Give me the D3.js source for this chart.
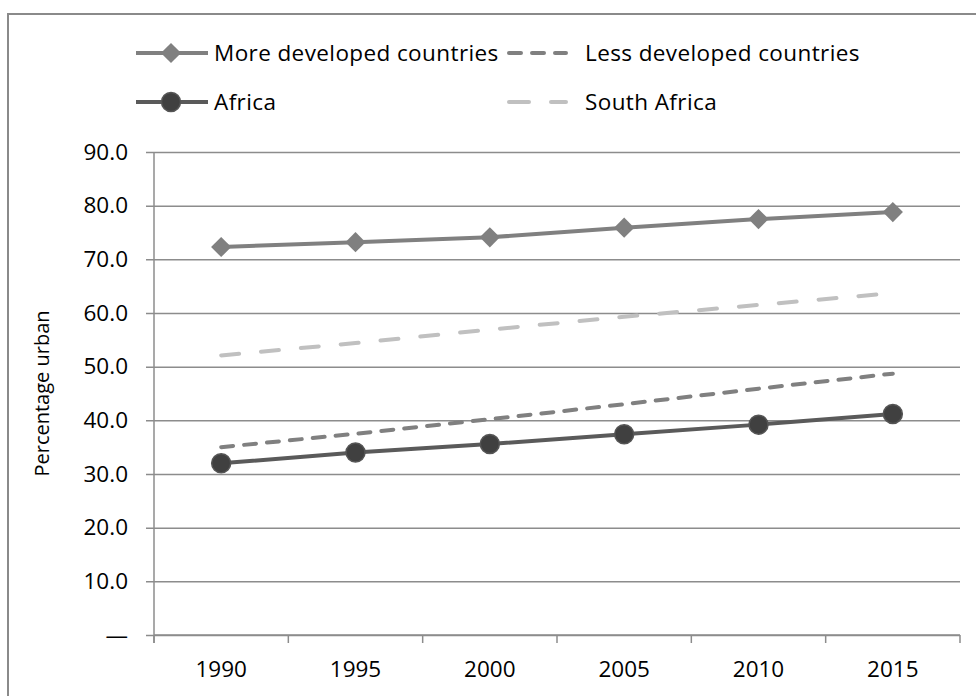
<!DOCTYPE html>
<html>
<head>
<meta charset="utf-8">
<script src="https://cdn.jsdelivr.net/npm/d3@7"></script>
<style>
  html, body { margin: 0; padding: 0; background: #fff; }
  svg { display: block; font-family: "Open Sans", Lato, sans-serif; }
</style>
</head>
<body>
<svg id="chart" width="976" height="696"></svg>
<script>
// Urban population share, 1990–2015
const years = ["1990", "1995", "2000", "2005", "2010", "2015"];
const moreDeveloped = [72.3, 73.2, 74.1, 75.9, 77.5, 78.8];
const lessDeveloped = [35.0, 37.5, 40.2, 43.0, 45.9, 48.7];
const africa = [32.0, 34.0, 35.6, 37.4, 39.2, 41.2];
const southAfrica = [52.1, 54.4, 56.9, 59.3, 61.5, 63.7];
const yTicks = [0, 10, 20, 30, 40, 50, 60, 70, 80, 90];

const series = [
  { name: "More developed countries", values: moreDeveloped, color: "#808080", dash: "", legendDash: "", marker: "diamond" },
  { name: "Less developed countries", values: lessDeveloped, color: "#808080", dash: "12 11", legendDash: "12 11", marker: null },
  { name: "Africa", values: africa, color: "#5a5a5a", dash: "", legendDash: "", marker: "circle" },
  { name: "South Africa", values: southAfrica, color: "#c0c0c0", dash: "18 22", legendDash: "20 22", marker: null }
];

const svg = d3.select("#chart");
const gridColor = "#8c8c8c";
const fontSize = 22.5;

// outer chart frame
svg.append("rect")
  .attr("x", 8).attr("y", 14)
  .attr("width", 1000).attr("height", 720)
  .attr("fill", "none").attr("stroke", "#8a8a8a").attr("stroke-width", 2);

const plot = { left: 154, right: 960, top: 152, bottom: 635 };

const x = d3.scaleBand().domain(years).range([plot.left, plot.right]);
const y = d3.scaleLinear().domain([0, 90]).range([plot.bottom, plot.top]);
const cx = d => x(d) + x.bandwidth() / 2;

// horizontal gridlines with left tick stubs
const yAxis = d3.axisLeft(y)
  .tickValues(yTicks)
  .tickSize(-(plot.right - plot.left))
  .tickPadding(18)
  .tickFormat(d => d === 0 ? "—" : d.toFixed(1));

const gy = svg.append("g")
  .attr("transform", `translate(${plot.left},0)`)
  .call(yAxis);
gy.select(".domain").remove();
gy.selectAll(".tick line")
  .attr("x1", -8)
  .attr("stroke", gridColor).attr("stroke-width", 1.5);
gy.selectAll(".tick text")
  .attr("font-size", fontSize).attr("fill", "#000")
  .attr("font-family", "'Open Sans', sans-serif")
  .attr("x", -26);

// vertical axis line
svg.append("line")
  .attr("x1", plot.left).attr("x2", plot.left)
  .attr("y1", plot.top).attr("y2", plot.bottom + 8)
  .attr("stroke", gridColor).attr("stroke-width", 1.5);

// category axis with ticks at band edges
const gx = svg.append("g")
  .attr("transform", `translate(0,${plot.bottom})`);
gx.append("line")
  .attr("x1", plot.left).attr("x2", plot.right)
  .attr("stroke", gridColor).attr("stroke-width", 1.5);
const edges = years.map(d => x(d)).concat([plot.right]);
gx.selectAll("line.edge").data(edges).join("line")
  .attr("class", "edge")
  .attr("x1", d => d).attr("x2", d => d)
  .attr("y1", 0).attr("y2", 8)
  .attr("stroke", gridColor).attr("stroke-width", 1.5);
gx.selectAll("text").data(years).join("text")
  .attr("x", d => cx(d)).attr("y", 42)
  .attr("text-anchor", "middle")
  .attr("font-size", fontSize)
  .text(d => d);

// axis title
svg.append("text")
  .attr("transform", `translate(49,${(plot.top + plot.bottom) / 2}) rotate(-90)`)
  .attr("text-anchor", "middle")
  .attr("font-size", 20)
  .text("Percentage urban");

// series lines
const line = d3.line()
  .x((d, i) => cx(years[i]))
  .y(d => y(d));

const drawOrder = [series[3], series[1], series[0], series[2]];
drawOrder.forEach(s => {
  svg.append("path")
    .datum(s.values)
    .attr("d", line)
    .attr("fill", "none")
    .attr("stroke", s.color)
    .attr("stroke-width", 4)
    .attr("stroke-linecap", s.dash ? "round" : "butt")
    .attr("stroke-linejoin", "round")
    .attr("stroke-dasharray", s.dash || null);
});

function drawMarker(g, type, px, py) {
  if (type === "diamond") {
    g.append("path")
      .attr("d", d3.symbol(d3.symbolDiamond2, 260)())
      .attr("transform", `translate(${px},${py})`)
      .attr("fill", "#808080");
  } else if (type === "circle") {
    g.append("circle")
      .attr("cx", px).attr("cy", py).attr("r", 9.5)
      .attr("fill", "#404040").attr("stroke", "#555").attr("stroke-width", 1.5);
  }
}

series.forEach(s => {
  if (!s.marker) return;
  const g = svg.append("g");
  s.values.forEach((v, i) => drawMarker(g, s.marker, cx(years[i]), y(v)));
});

// legend
const legendPos = [
  { x: 136, y: 53 }, { x: 507, y: 53 },
  { x: 136, y: 102 }, { x: 507, y: 102 }
];
const legend = svg.append("g");
series.forEach((s, i) => {
  const p = legendPos[i];
  const g = legend.append("g");
  const w = s.marker ? 72 : 61;
  const x0 = s.dash ? p.x + 2 : p.x;
  g.append("line")
    .attr("x1", x0).attr("x2", p.x + w - (s.dash ? 2 : 0))
    .attr("y1", p.y).attr("y2", p.y)
    .attr("stroke", s.color).attr("stroke-width", 4)
    .attr("stroke-linecap", s.dash ? "round" : "butt")
    .attr("stroke-dasharray", s.legendDash || null);
  if (s.marker) drawMarker(g, s.marker, p.x + 35, p.y);
  g.append("text")
    .attr("x", p.x + 78)
    .attr("y", p.y)
    .attr("dy", "0.36em")
    .attr("font-size", fontSize)
    .attr("letter-spacing", 0.4)
    .text(s.name);
});
</script>
</body>
</html>
